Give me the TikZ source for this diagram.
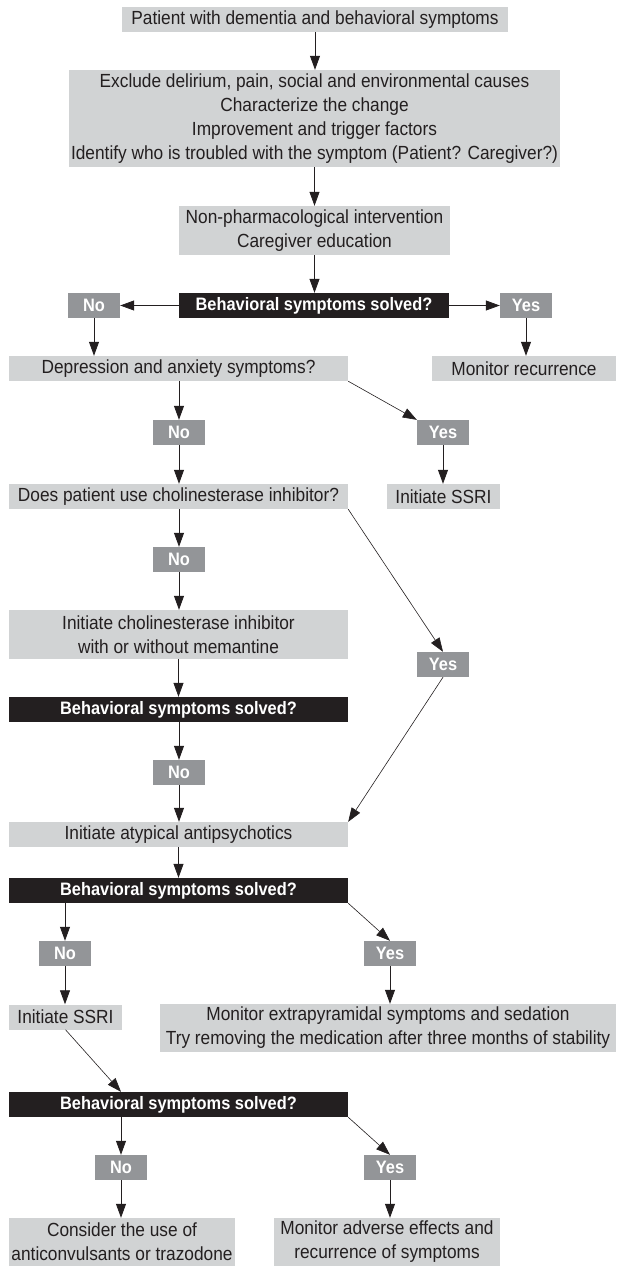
\documentclass[tikz,border=0pt]{standalone}
\usepackage{fontspec}
\setmainfont{Liberation Sans}[FakeStretch=0.91]
\usepackage{xcolor}
\usetikzlibrary{arrows.meta,positioning,calc}
\definecolor{boxgray}{RGB}{209,211,212}
\definecolor{taggray}{RGB}{147,149,152}
\definecolor{inkblack}{RGB}{35,31,32}
\tikzset{
  % flow boxes
  stepbox/.style={fill=boxgray,text=inkblack,inner sep=0pt,minimum height=25pt,align=center,font=\fontsize{19}{24}\selectfont},
  askbox/.style={stepbox,fill=inkblack,text=white,font=\fontsize{18}{24}\selectfont\bfseries},
  tagbox/.style={stepbox,fill=taggray,text=white,minimum width=52pt,font=\fontsize{18}{24}\selectfont\bfseries},
  % connectors
  flow/.style={line width=0.8pt,inkblack,-{Triangle[length=14pt,width=10pt]}},
  flowthin/.style={flow,line width=0.6pt},
}

\begin{document}
\begin{tikzpicture}[x=1pt,y=-1pt]
\useasboundingbox (0,0) rectangle (616,1266);

%% assessment
\node[stepbox,minimum width=386pt] (pat) at (315,19.5) {Patient with dementia and behavioral symptoms};
\node[stepbox,minimum width=491pt,minimum height=97pt] (excl) at (314.5,118.5)
  {Exclude delirium, pain, social and environmental causes\\Characterize the change\\Improvement and trigger factors\\Identify who is troubled with the symptom (Patient? Caregiver?)};
\node[stepbox,minimum width=271pt,minimum height=49pt] (nonph) at (314.5,230.5) {Non-pharmacological intervention\\Caregiver education};
\node[askbox,minimum width=270pt] (ask1) at (314,305.5) {Behavioral symptoms solved?};
\node[tagbox] (no1) at (94,305.5) {No};
\node[tagbox] (yes1) at (526,305.5) {Yes};
\node[stepbox,minimum width=184pt] (monrec) at (524,368.5) {Monitor recurrence};

%% depression / cholinesterase branch
\node[stepbox,minimum width=339pt] (depr) at (178.5,368.5) {Depression and anxiety symptoms?};
\node[tagbox] (no2) at (179,432.5) {No};
\node[tagbox] (yes2) at (443,432.5) {Yes};
\node[stepbox,minimum width=113pt] (ssri1) at (443.5,496.5) {Initiate SSRI};
\node[stepbox,minimum width=339pt] (chol) at (178.5,496.5) {Does patient use cholinesterase inhibitor?};
\node[tagbox] (no3) at (179,559.5) {No};
\node[stepbox,minimum width=339pt,minimum height=49pt] (initchol) at (178.5,634.5) {Initiate cholinesterase inhibitor\\with or without memantine};
\node[tagbox] (yes3) at (443,664.5) {Yes};
\node[askbox,minimum width=339pt] (ask2) at (178.5,709.5) {Behavioral symptoms solved?};
\node[tagbox] (no4) at (179,772.5) {No};

%% antipsychotics
\node[stepbox,minimum width=339pt] (atyp) at (178.5,834.5) {Initiate atypical antipsychotics};
\node[askbox,minimum width=339pt] (ask3) at (178.5,890.5) {Behavioral symptoms solved?};
\node[tagbox] (no5) at (65,953.5) {No};
\node[tagbox] (yes5) at (390,953.5) {Yes};
\node[stepbox,minimum width=113pt] (ssri2) at (65.5,1017) {Initiate SSRI};
\node[stepbox,minimum width=456pt,minimum height=48pt] (monextra) at (388,1028)
  {Monitor extrapyramidal symptoms and sedation\\Try removing the medication after three months of stability};
\node[askbox,minimum width=339pt] (ask4) at (178.5,1104.5) {Behavioral symptoms solved?};
\node[tagbox] (no6) at (121,1167.5) {No};
\node[tagbox] (yes6) at (390,1167.5) {Yes};
\node[stepbox,minimum width=226pt,minimum height=48pt] (consider) at (122,1242) {Consider the use of\\anticonvulsants or trazodone};
\node[stepbox,minimum width=226pt,minimum height=48pt] (monadv) at (387,1242) {Monitor adverse effects and\\recurrence of symptoms};

%% vertical arrows (x of the upper box)
\foreach \a/\b in {pat/excl, excl/nonph, nonph/ask1, no1/depr, yes1/monrec, yes2/ssri1, no2/chol,
                   no3/initchol, no4/atyp, no5/ssri2, yes5/monextra, no6/consider, yes6/monadv}
  \draw[flow] (\a.south) -- (\a.south |- \b.north);
%% vertical arrows (x of the lower box)
\foreach \a/\b in {depr/no2, chol/no3, initchol/ask2, ask2/no4, atyp/ask3, ask3/no5, ask4/no6}
  \draw[flow] (\a.south -| \b) -- (\b.north);

%% side arrows
\draw[flow] (ask1.west) -- (no1.east);
\draw[flow] (ask1.east) -- (yes1.west);
\draw[flowthin] (depr.south east) -- (yes2.north west);
\draw[flowthin] (chol.south east) -- (yes3.north);
\draw[flowthin] (yes3.south) -- (atyp.north east);
\draw[flowthin] (ask3.south east) -- (yes5.north);
\draw[flowthin] (ssri2.south) -- (ask4.north -| no6);
\draw[flowthin] (ask4.south east) -- (yes6.north);
\end{tikzpicture}
\end{document}
